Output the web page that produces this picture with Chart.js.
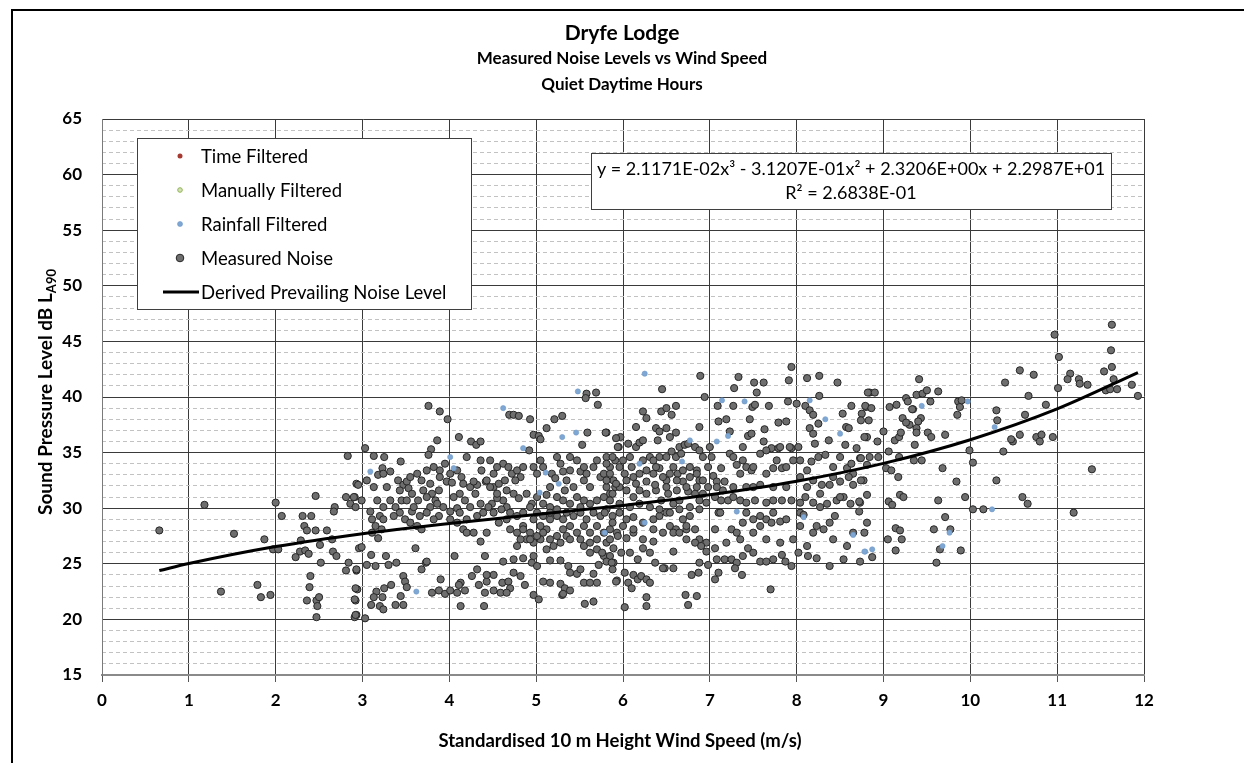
<!DOCTYPE html>
<html><head><meta charset="utf-8">
<script src="https://cdn.jsdelivr.net/npm/chart.js@4.4.1/dist/chart.umd.min.js"></script>
<style>
html,body{margin:0;padding:0;background:#fff;}
#wrap{position:relative;width:1244px;height:763px;overflow:hidden;background:#fff;}
#frame{position:absolute;left:11px;top:9px;width:1300px;height:800px;border-left:2px solid #000;border-top:2px solid #000;}
canvas{position:absolute;left:0;top:0;}
</style></head>
<body><div id="wrap"><div id="frame"></div><canvas id="c" width="1244" height="763"></canvas></div>
<script>
const FONT = 'Lato, "Open Sans", "DejaVu Sans", sans-serif';
const titleLines = ['Dryfe Lodge', 'Measured Noise Levels vs Wind Speed', 'Quiet Daytime Hours'];
const xAxisTitle = 'Standardised 10 m Height Wind Speed (m/s)';
const yAxisTitle = 'Sound Pressure Level dB L';
const yAxisTitleSub = 'A90';
const equationLines = ['y = 2.1171E-02x\u00B3 - 3.1207E-01x\u00B2 + 2.3206E+00x + 2.2987E+01', 'R\u00B2 = 2.6838E-01'];
const xRange = [0, 12];
const yRange = [15, 65];

const timeFiltered = [];
const manuallyFiltered = [];
const rainfallFiltered = [
[5.48,40.5],[4.62,39.0],[5.30,36.4],[5.46,36.8],[4.85,35.4],[4.01,34.6],[4.05,33.6],[3.09,33.3],[3.62,22.5],[5.79,27.8],[5.04,31.4],[5.11,33.2],[5.26,32.2],
[6.25,42.1],[7.14,39.7],[7.40,39.6],[8.15,39.7],[8.33,38.0],[8.50,36.7],[7.21,36.5],[6.77,36.1],[7.08,36.0],[6.19,34.0],[6.68,34.2],[6.25,28.7],[7.31,29.7],[8.08,29.2],[8.65,27.6],[8.79,26.1],
[10.28,37.3],[10.25,29.9],[9.97,39.6],[9.44,39.2],[9.76,27.8],[9.68,26.6],[8.78,26.1],[8.87,26.3]
];
const measuredNoise = [
[2.83,34.7],[2.93,32.2],[2.46,31.1],[2.81,31.0],[2.86,30.4],[2.91,31.0],[2.68,30.1],[2.67,29.7],[1.18,30.3],[2.0,30.5],[2.07,29.3],[2.31,29.3],[2.41,29.3],[2.33,28.4],[2.36,28.0],[2.46,28.0],[2.59,28.0],[0.66,28.0],[1.52,27.7],[1.87,27.2],[2.29,27.1],[2.51,26.7],[2.65,27.2],[2.96,26.4],[1.97,26.3],[2.03,26.3],[2.28,26.1],[2.34,26.2],[2.38,25.9],[2.23,25.6],[2.66,26.1],[2.70,25.7],[2.52,25.1],[2.84,25.1],[2.81,24.4],[2.93,24.4],[2.40,23.9],[1.79,23.1],[2.39,22.9],[2.94,22.7],[1.37,22.5],[1.83,22.0],[1.94,22.2],[2.36,21.7],[2.47,21.7],[2.50,22.0],[2.48,21.2],[2.92,21.7],[2.47,20.2],[2.91,20.2],[2.93,20.4],
[5.58,40.3],[5.57,39.9],[5.69,40.4],[5.71,39.3],[3.76,39.2],[3.89,38.7],[3.98,38.0],[4.69,38.4],[4.74,38.4],[4.80,38.3],[4.93,38.0],[5.21,38.0],[5.30,38.3],[5.12,37.2],[4.97,36.6],[5.03,36.5],[5.05,36.2],[5.59,36.8],[5.81,36.8],[5.53,35.7],[4.11,36.4],[4.25,36.0],[4.31,35.7],[4.36,36.0],[3.86,36.1],[3.79,35.3],[3.76,34.8],[3.03,35.4],[3.13,34.7],[3.25,34.6],[4.92,35.2],[4.20,34.6],[4.36,34.3],[3.95,34.0],[3.44,34.2],[3.23,33.6],[3.18,33.0],[3.32,33.3],[3.24,33.1],[3.89,33.4],[3.89,32.8],[3.97,32.4],[4.03,32.3],[3.41,32.5],[3.47,32.1],[3.51,32.4],[3.53,31.8],[3.57,31.3],[3.43,31.6],[3.45,30.7],[3.38,30.1],[3.70,31.6],[3.78,32.2],[3.80,31.3],[3.88,31.6],[3.84,30.7],[3.74,31.0],[4.14,32.8],[4.16,32.2],[4.24,31.9],[4.12,31.3],[4.05,31.0],[4.18,30.7],[4.30,31.3],[4.32,32.1],[4.28,32.4],[4.37,33.4],[4.42,32.4],[4.51,31.9],[4.57,32.2],[4.62,34.0],[4.68,33.7],[4.72,33.1],[4.78,33.4],[4.82,32.8],[4.85,33.7],[4.76,32.5],[4.64,32.5],[4.66,31.6],[4.74,31.3],[4.80,30.9],[4.62,30.7],[4.55,30.9],[4.49,30.4],[4.66,30.1],
[4.89,31.3],[4.95,30.4],[5.01,31.0],[5.08,30.4],[5.12,31.2],[5.16,31.9],[5.24,31.0],[5.18,33.1],[5.22,32.7],[5.28,34.0],[5.31,33.3],[5.39,33.4],[5.35,32.5],[5.43,31.9],[5.33,31.6],[5.31,30.7],[5.47,31.0],[5.51,33.3],[5.55,32.5],[5.58,33.1],[5.62,31.9],[5.66,33.7],[5.70,34.3],[5.74,32.8],[5.78,33.1],[5.81,34.6],[5.85,33.7],[5.91,34.3],[5.89,32.5],[5.91,31.9],[5.85,31.3],[5.78,31.0],[5.70,30.7],[5.62,30.4],[5.55,30.7],[5.51,30.1],[5.39,30.4],[5.16,30.1],
[2.90,31.0],[2.95,32.1],[2.99,30.7],[2.92,30.1],
[3.09,29.7],[3.11,29.0],[3.20,29.3],[3.24,29.0],[3.15,28.4],[3.22,28.1],[3.11,27.8],[3.18,27.3],
[3.43,29.6],[3.49,29.0],[3.55,28.7],[3.63,28.4],[3.68,28.1],[3.57,29.7],[3.66,29.3],
[3.88,29.3],[3.93,30.1],[4.01,29.7],[4.09,30.0],[4.12,29.6],
[4.16,28.1],[4.20,27.8],[4.28,27.8],[4.36,27.0],[4.43,27.8],
[4.51,29.6],[4.57,28.7],[4.66,29.0],[4.70,28.1],[4.78,27.8],[4.85,28.4],[4.93,27.8],[4.97,29.0],[5.05,28.4],[5.12,28.1],[5.16,29.0],[5.24,29.3],[5.31,29.0],[5.35,27.5],[5.39,27.2],[5.28,26.9],[5.20,26.6],[5.12,26.3],[5.05,27.2],[4.97,26.9],[4.89,27.2],[4.82,27.2],[4.78,26.6],
[5.55,28.4],[5.62,27.8],[5.70,28.4],[5.78,27.8],[5.85,28.1],[5.93,27.8],[5.55,26.6],[5.62,26.0],[5.70,26.3],[5.78,25.7],[5.85,25.7],
[2.99,26.5],
[3.10,25.8],[3.15,24.8],[2.93,24.5],[3.05,24.9],[3.27,25.7],[3.30,24.9],[3.39,25.1],[3.61,26.4],[3.68,24.5],[3.73,25.1],
[3.47,23.9],[3.49,23.4],[3.51,22.9],[3.33,23.1],[3.25,22.8],[3.16,22.5],[3.23,22.0],
[2.92,22.8],[2.91,21.8],[3.13,22.0],[3.10,21.3],[3.20,21.2],[3.24,20.9],[2.92,20.4],[3.03,20.1],
[3.38,21.3],[3.47,21.3],[3.44,22.1],
[3.80,22.4],[3.88,22.6],[3.95,22.3],[4.01,22.6],[4.09,22.4],[4.13,21.2],[4.18,22.6],[4.13,23.3],[4.11,23.1],
[3.90,23.6],[4.06,25.7],[3.74,25.2],
[4.26,23.9],[4.32,24.5],[4.34,23.1],[4.41,25.7],[4.43,23.4],[4.41,22.4],[4.40,21.2],[4.51,24.0],[4.43,24.0],
[4.51,22.6],[4.59,22.4],[4.61,23.3],[4.68,23.4],[4.70,22.8],[4.66,22.4],[4.74,24.2],[4.82,23.9],
[4.62,25.2],[4.74,25.4],[4.85,25.5],[4.95,25.1],[5.01,24.8],[4.97,25.7],
[4.87,23.1],[4.97,22.2],[5.03,21.8],
[5.08,23.4],[5.16,23.3],[5.28,23.2],[5.33,22.8],[5.30,22.2],[5.39,22.6],[5.31,22.3],
[5.16,25.3],[5.28,25.3],[5.37,24.8],[5.39,24.2],[5.47,24.1],[5.51,24.5],[5.55,23.3],[5.62,23.3],[5.70,23.3],[5.66,24.1],[5.72,24.9],[5.89,25.1],[5.93,23.5],
[5.56,21.4],[5.66,21.6],
[5.76,26.0],[5.89,26.4],[5.81,25.2],
[5.97,36.4],[5.95,35.5],
[4.47,31.9],[4.55,31.3],[4.60,29.9],[4.70,29.6],[4.78,29.3],[4.85,29.6],[4.93,30.1],[5.01,29.6],[5.08,29.3],[5.16,29.6],[5.24,29.9],[5.35,29.6],[5.43,29.3],[5.51,29.6],[5.58,29.0],[5.66,29.6],[5.74,29.3],[5.81,29.9],
[4.85,28.1],[4.93,27.2],[5.01,27.5],[5.08,27.8],[5.16,27.2],[5.24,27.5],[5.31,28.1],[5.39,28.4],[5.47,27.8],[5.51,27.2],[5.62,26.9],[5.70,27.2],[5.81,26.9],
[3.51,30.7],[3.59,30.1],[3.64,30.7],[3.78,30.1],[3.86,30.4],[3.74,29.6],[3.82,29.0],[4.01,29.0],[4.09,28.7],[4.20,29.0],[4.32,29.3],[4.39,29.6],[4.45,30.1],[4.36,30.4],[4.24,30.1],
[3.28,31.9],[3.32,30.7],[3.24,30.1],[3.17,30.7],[3.13,31.9],[3.05,32.5],[3.36,29.3],
[3.63,33.1],[3.68,32.5],[3.74,33.4],[3.82,33.7],[3.55,32.8],[4.09,33.4],[4.01,33.1],[4.43,32.5],[4.51,33.1],[4.55,33.7],[4.47,34.3],[4.97,33.7],[5.01,33.1],[5.08,33.7],[5.05,34.3],[5.47,34.3],[5.55,33.7],[5.39,34.6],[5.24,34.6],
[6.89,41.9],[6.45,40.7],[6.94,40.0],[7.94,42.7],[7.33,41.8],[7.28,40.8],[7.51,41.3],[7.62,41.3],[7.54,40.4],[7.91,41.5],[8.12,41.7],[8.26,41.9],[8.47,41.3],[8.26,40.1],[8.84,40.4],
[7.09,39.2],[7.27,39.2],[7.49,39.1],[7.52,39.3],[7.68,39.2],[7.90,39.6],[8.00,39.4],[8.10,39.2],[8.15,38.8],[8.19,38.4],[8.63,39.2],[8.53,38.5],[8.80,39.1],[8.75,38.5],[8.83,37.9],[8.57,37.3],
[6.23,38.7],[6.27,38.1],[6.44,38.7],[6.50,39.0],[6.56,38.4],[6.61,39.2],[6.15,37.3],[6.38,37.2],[6.42,36.9],[6.50,37.2],[6.61,36.8],[6.54,36.4],[6.65,35.5],[6.88,37.3],[5.80,36.8],
[7.10,37.8],[7.19,38.0],[7.23,36.9],[7.46,38.0],[7.44,36.5],[7.48,36.7],[7.63,37.1],[7.79,37.7],[7.88,37.8],[7.38,35.5],
[7.62,36.0],[7.71,35.4],[7.79,35.4],[7.94,35.4],[8.02,35.5],[8.15,37.2],[8.19,36.7],[8.21,35.8],[8.25,37.6],[8.37,36.1],[8.56,35.7],[8.60,37.2],[8.69,35.4],[8.81,36.4],
[5.92,36.3],[5.94,35.5],[6.06,35.8],[6.15,35.5],[6.19,35.9],[6.23,36.1],[6.31,34.6],[6.40,36.1],[6.42,34.6],[6.35,34.3],[6.50,34.6],[6.56,35.1],[6.61,34.6],[6.67,34.9],[6.71,35.7],[6.75,35.8],[6.83,35.5],[6.88,35.2],[6.92,34.6],[7.00,35.5],[7.02,34.6],
[5.81,34.0],[5.85,33.1],[5.96,33.7],[6.02,33.1],[6.10,33.7],[6.12,32.8],[6.19,33.1],[6.27,33.4],[6.35,33.1],[6.42,33.6],[6.50,32.5],[6.58,33.7],[6.63,33.1],[6.69,32.4],[6.77,32.8],[6.85,33.4],[6.88,32.5],[6.98,33.7],[7.04,32.9],[7.08,32.4],[7.13,33.6],[7.17,32.4],[7.23,34.9],[7.31,33.9],[7.35,33.1],[7.42,33.7],[7.48,33.4],[7.50,31.9],[7.58,34.9],[7.65,35.2],[7.73,33.6],[7.81,35.5],[7.83,33.6],[7.92,35.5],[7.96,34.3],[8.04,34.3],[8.12,33.4],[8.17,34.2],[8.25,34.6],[8.33,34.8],[8.42,33.7],[8.50,34.6],[8.58,33.6],[8.63,34.0],[8.65,33.1],[8.73,34.5],[8.81,33.9],[8.19,32.5],[8.29,32.1],[8.38,32.1],[8.50,32.4],[8.60,32.8],[8.65,32.1],[8.77,32.5],
[5.81,31.9],[5.88,31.3],[5.96,31.9],[6.04,31.6],[6.12,31.0],[6.19,31.6],[6.27,31.3],[6.38,31.6],[6.44,30.7],[6.52,31.3],[6.58,30.4],[6.65,30.7],[6.75,31.5],[6.83,31.3],[6.88,30.7],[6.96,30.5],[7.06,31.0],[7.13,30.7],[7.21,30.7],[7.27,31.0],[7.35,30.7],[7.42,30.5],[7.52,30.7],[7.65,30.5],[7.73,30.7],[7.83,30.7],[7.94,30.7],[8.04,30.5],[8.10,31.0],[8.19,30.5],[8.27,30.1],[8.35,30.4],[8.46,30.7],[8.54,31.0],[8.62,30.4],[8.73,30.5],[8.81,31.2],
[5.79,29.6],[5.88,29.3],[5.96,29.6],[6.04,29.0],[6.12,29.2],[6.23,28.7],[6.35,29.0],[6.42,29.3],[6.50,29.6],[6.54,28.4],[6.61,28.1],[6.69,29.0],[6.77,29.3],[6.83,28.1],[6.88,27.2],[6.96,26.9],[7.06,28.1],[7.10,29.6],[7.25,28.1],[7.31,27.8],[7.38,28.7],[7.50,29.0],[7.58,28.4],[7.65,29.0],[7.71,28.7],[7.81,28.8],[8.04,29.6],[8.08,29.4],[8.23,28.4],[8.31,28.1],[8.38,28.7],[8.44,29.3],[8.65,27.8],[8.81,28.7],
[5.85,27.2],[5.94,27.5],[6.04,27.3],[6.12,27.8],[6.23,27.2],[6.35,27.0],[6.58,27.8],[6.73,28.1],
[5.87,25.1],[5.98,26.0],[6.08,26.0],[6.17,25.4],[6.23,26.4],[6.31,26.0],[6.37,25.1],[6.48,24.6],[6.58,24.6],[6.58,26.1],[6.73,27.2],[6.83,26.9],[6.90,26.6],[6.96,26.1],
[6.88,25.1],[6.98,24.9],[7.06,26.4],[7.08,25.4],[7.17,25.4],[7.25,25.4],[7.31,25.1],[7.38,25.7],[7.44,26.4],[7.50,26.0],[7.58,25.2],[7.65,25.2],[7.73,25.4],[7.83,25.8],[7.87,25.2],[7.94,24.8],[8.02,26.0],[8.13,25.7],[8.23,25.5],[8.38,24.8],[8.54,25.4],[8.73,25.2],[7.06,23.6],[7.10,24.2],[7.29,24.6],[7.37,24.0],[6.79,24.0],[6.87,24.2],
[5.88,24.5],[5.92,23.4],[6.02,24.2],[6.06,23.3],[6.12,24.0],[6.17,23.6],[6.21,23.9],[6.27,23.6],[6.31,23.3],[6.10,22.8],[6.27,22.0],[6.27,21.2],[6.02,21.1],[6.72,22.2],[6.75,21.3],[6.85,22.1],[7.70,22.7],[6.46,24.6],
[5.88,34.6],[6.00,34.3],[6.08,34.6],[6.23,34.3],[6.38,33.7],[6.46,32.8],[6.54,33.1],[6.62,32.5],[6.69,33.4],[6.77,33.7],[6.85,33.1],[6.92,32.5],[6.98,31.9],
[5.81,32.5],[5.92,32.2],[6.04,32.5],[6.15,32.2],[6.27,32.4],[6.37,32.1],[6.50,31.9],[6.62,31.6],[6.73,31.9],[6.85,31.9],[6.92,31.3],
[5.85,30.7],[5.96,30.4],[6.08,30.1],[6.19,30.4],[6.31,30.1],[6.42,29.9],[6.54,29.6],[6.65,29.9],[6.77,30.1],[6.88,29.9],
[5.88,28.7],[6.00,28.4],[6.12,28.1],[6.35,28.1],[6.46,27.8],[6.65,27.8],[6.73,28.4],
[7.27,34.6],[7.38,34.3],[7.50,33.7],[7.65,33.1],[7.77,34.3],[7.88,33.7],[8.04,32.8],[8.12,31.9],[8.42,32.8],[8.50,31.0],[8.27,31.3],[7.88,31.9],[7.73,31.9],[7.58,32.1],[7.42,31.9],[7.27,31.9],[7.15,31.6],[7.08,31.9],
[7.12,29.6],[7.42,29.6],[7.58,29.3],[7.73,29.6],[7.88,29.0],[8.04,28.4],[8.19,27.8],[8.42,27.2],[8.58,26.6],[8.12,26.6],[7.96,27.2],[7.81,26.9],[7.65,27.2],[7.50,27.8],[7.35,27.2],[7.19,26.9],
[11.63,46.5],[10.97,45.6],[11.62,44.2],[11.02,43.6],[10.57,42.4],[10.73,42.0],[10.40,41.3],[11.15,42.1],[11.12,41.6],[11.25,41.6],[11.26,41.2],[11.35,41.1],[11.54,42.3],[11.63,42.7],[11.65,41.6],[11.56,40.6],[11.61,40.7],[11.69,40.7],[11.86,41.1],[11.93,40.1],[11.01,40.8],[10.67,40.1],
[10.87,39.3],[10.63,38.4],[10.95,36.4],[10.76,36.4],[10.82,36.6],[10.80,36.0],[10.57,36.6],[10.49,36.0],[10.47,36.2],[10.38,35.1],[10.30,38.8],[10.31,37.9],[10.30,32.5],
[11.40,33.5],[11.19,29.6],[10.60,31.0],[10.66,30.4],[10.03,29.9],[10.15,29.9],[9.99,35.2],[10.03,34.1],[9.94,31.0],[9.84,32.4],[9.63,40.5],
[9.41,41.6],[9.38,40.2],[9.45,40.3],[9.50,40.6],[9.54,39.6],[9.34,38.9],[9.43,38.1],[9.40,37.8],[9.38,37.2],[9.38,36.8],[9.36,35.7],[9.51,36.8],[9.55,36.4],[9.71,36.6],[9.35,34.3],[9.44,34.3],[9.17,32.8],[9.19,31.2],[9.23,31.0],[9.06,30.6],[9.10,30.3],[9.14,28.2],[9.19,28.0],[9.21,27.2],[9.05,27.2],[9.14,26.2],[8.87,25.6],[8.78,27.8],[8.72,29.7],
[9.86,39.6],[9.88,39.1],[9.85,38.4],[9.90,39.7],
[9.26,39.9],[9.28,39.6],[9.33,38.9],[9.07,39.1],[9.15,39.3],[9.22,38.1],[9.30,37.5],[9.26,37.7],[9.13,36.1],[9.18,36.4],[9.20,36.8],[9.00,36.9],[8.93,36.0],[9.06,35.1],[9.18,34.6],[8.94,34.6],[8.84,34.6],[9.03,33.6],[9.09,33.4],
[8.82,40.4],[8.90,40.4],[8.79,39.2],[8.86,39.0],[8.74,37.9],[8.78,36.4],[8.74,34.5],[8.74,32.5],[8.72,30.6],
[9.68,33.6],[9.63,30.7],[9.71,29.2],[9.58,28.1],[9.77,28.1],[9.65,26.3],[9.89,26.2],[9.61,25.1]
];
const fitWind  = [0.66, 1, 2, 3, 4, 5, 6, 7, 8, 9, 10, 11, 11.93];
const fitLevel = [24.39, 25.02, 26.55, 27.71, 28.63, 29.44, 30.25, 31.20, 32.42, 34.03, 36.16, 38.93, 42.20];

const toPts = arr => arr.map(([x, y]) => ({x, y}));

const decor = {
  id: 'decor',
  afterDraw(chart) {
    const ctx = chart.ctx;
    ctx.save();
    ctx.fillStyle = '#000';
    ctx.textAlign = 'center';
    ctx.textBaseline = 'middle';
    ctx.font = `bold 21px ${FONT}`;
    ctx.fillText(titleLines[0], 622, 33);
    ctx.font = `bold 17px ${FONT}`;
    ctx.fillText(titleLines[1], 622, 59);
    ctx.fillText(titleLines[2], 622, 85);
    ctx.font = `bold 18.5px ${FONT}`;
    ctx.fillText(xAxisTitle, 620, 741);
    ctx.save();
    ctx.translate(46, 392);
    ctx.rotate(-Math.PI / 2);
    ctx.font = `bold 19px ${FONT}`;
    const w1 = ctx.measureText(yAxisTitle).width;
    ctx.font = `bold 13px ${FONT}`;
    const w2 = ctx.measureText(yAxisTitleSub).width;
    const start = -(w1 + w2) / 2;
    ctx.textAlign = 'left';
    ctx.font = `bold 19px ${FONT}`;
    ctx.fillText(yAxisTitle, start, 0);
    ctx.font = `bold 13px ${FONT}`;
    ctx.fillText(yAxisTitleSub, start + w1, 6);
    ctx.restore();

    ctx.fillStyle = '#fff';
    ctx.fillRect(137, 138, 334, 171);
    ctx.strokeStyle = '#3f3f3f';
    ctx.lineWidth = 1;
    ctx.strokeRect(137.5, 138.5, 334, 171);
    const ds = chart.data.datasets;
    const rows = [156, 190, 224, 258, 292];
    ctx.font = `18.5px ${FONT}`;
    ctx.textAlign = 'left';
    ctx.textBaseline = 'middle';
    ds.forEach((d, i) => {
      const y = rows[i];
      if (d.showLine) {
        ctx.strokeStyle = d.borderColor;
        ctx.lineWidth = 3;
        ctx.beginPath(); ctx.moveTo(163, y); ctx.lineTo(199, y); ctx.stroke();
      } else {
        ctx.beginPath();
        ctx.arc(180, y, d.legendRadius, 0, Math.PI * 2);
        ctx.fillStyle = d.backgroundColor;
        ctx.fill();
        if (d.borderWidth) { ctx.lineWidth = d.borderWidth; ctx.strokeStyle = d.borderColor; ctx.stroke(); }
      }
      ctx.fillStyle = '#000';
      ctx.fillText(d.label, 201, y + 1);
    });

    ctx.fillStyle = '#fff';
    ctx.fillRect(591, 153, 520, 56);
    ctx.strokeStyle = '#3f3f3f';
    ctx.lineWidth = 1;
    ctx.strokeRect(591.5, 153.5, 520, 56);
    ctx.fillStyle = '#000';
    ctx.textAlign = 'center';
    ctx.font = `18px ${FONT}`;
    ctx.fillText(equationLines[0], 851, 169);
    ctx.fillText(equationLines[1], 851, 193);
    ctx.restore();
  }
};

new Chart(document.getElementById('c'), {
  type: 'scatter',
  data: {
    datasets: [
      { label: 'Time Filtered', data: toPts(timeFiltered), backgroundColor: '#a63a30', borderColor: '#a63a30', borderWidth: 0, pointRadius: 2.5, legendRadius: 2.5, order: 1 },
      { label: 'Manually Filtered', data: toPts(manuallyFiltered), backgroundColor: '#d3e3b5', borderColor: '#92b356', borderWidth: 1, pointRadius: 2.5, legendRadius: 2.3, order: 1 },
      { label: 'Rainfall Filtered', data: toPts(rainfallFiltered), backgroundColor: '#7fa7d4', borderColor: '#6e98c8', borderWidth: 0.6, pointRadius: 2.6, legendRadius: 2.5, order: 1 },
      { label: 'Measured Noise', data: toPts(measuredNoise), backgroundColor: '#6e6e6e', borderColor: '#262626', borderWidth: 1, pointRadius: 3.6, legendRadius: 3.8, order: 2 },
      { label: 'Derived Prevailing Noise Level', data: fitWind.map((x, i) => ({x, y: fitLevel[i]})), showLine: true, borderColor: '#000', backgroundColor: '#000', borderWidth: 3, pointRadius: 0, cubicInterpolationMode: 'monotone', fill: false, order: 0 }
    ]
  },
  options: {
    responsive: false,
    devicePixelRatio: 1,
    animation: false,
    events: [],
    layout: { padding: { left: 0, top: 119, right: 100, bottom: 0 } },
    plugins: { legend: { display: false }, title: { display: false }, tooltip: { enabled: false } },
    scales: {
      x: {
        type: 'linear', position: 'bottom', min: xRange[0], max: xRange[1],
        ticks: { stepSize: 1, autoSkip: false, maxRotation: 0, padding: 8, color: '#000', font: { family: FONT, size: 17, weight: 'bold' } },
        grid: { color: '#3a3a3a', lineWidth: 1, drawTicks: true, tickLength: 7, tickColor: '#555' },
        border: { color: '#8a8a8a', width: 2 },
        afterFit: s => { s.height = 88; }
      },
      yMinor: {
        type: 'linear', position: 'left', min: yRange[0], max: yRange[1],
        ticks: { display: false, stepSize: 1 },
        grid: { color: c => (c.tick && c.tick.value % 5 === 0) ? 'rgba(0,0,0,0)' : '#c2c2c2', lineWidth: 1, drawTicks: false },
        border: { display: false, dash: [4, 3] },
        afterFit: s => { s.width = 0; }
      },
      y: {
        type: 'linear', position: 'left', min: yRange[0], max: yRange[1],
        ticks: { stepSize: 5, padding: 20, color: '#000', font: { family: FONT, size: 17, weight: 'bold' } },
        grid: { color: '#3a3a3a', lineWidth: 1, drawTicks: false },
        border: { color: '#7a7a7a', width: 1 },
        afterFit: s => { s.width = 102; }
      }
    }
  },
  plugins: [decor]
});
</script>
</body></html>
